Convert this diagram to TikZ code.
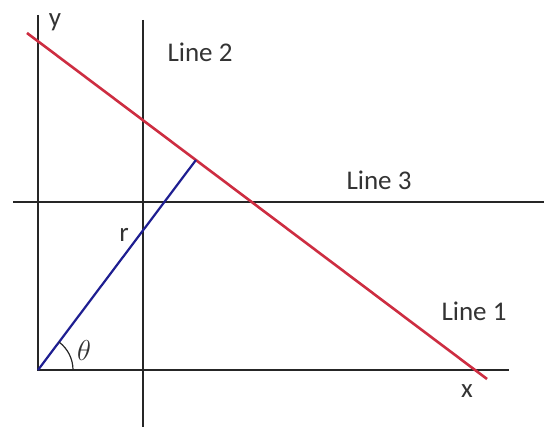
\documentclass[tikz,border=0pt]{standalone}
\usepackage{fontspec}
\setmainfont{Carlito}
\usetikzlibrary{calc,positioning}
\definecolor{redline}{RGB}{205,45,65}
\definecolor{blueline}{RGB}{30,30,145}

\begin{document}
\begin{tikzpicture}[x=0.5pt,y=0.5pt,
      ax/.style={draw=black!85,line width=1pt},
      lineone/.style={draw=redline,line width=1.3pt},
      normal/.style={draw=blueline,line width=1.1pt},
      lbl/.style={font=\fontsize{13.5}{16}\selectfont,text=black!80,inner sep=0pt}]
    \useasboundingbox (0,0) rectangle (544,429);
    % axes and the two reference lines
    \coordinate (O) at (38,59);
    \coordinate (ytop) at (38,414);
    \coordinate (xend) at (509,59);
    \coordinate (Ltwotop) at (143,409);
    \coordinate (Ltwobot) at (143,2);
    \coordinate (Lthreel) at (13,227);
    \coordinate (Lthreer) at (544,227);
    \draw[ax] (ytop) -- (O) -- (xend);
    \draw[ax] (Ltwotop) -- (Ltwobot);
    \draw[ax] (Lthreel) -- (Lthreer);
    % line 1 and its normal
    \coordinate (A) at (27,396);
    \coordinate (B) at (487,50);
    \coordinate (F) at ($(A)!(O)!(B)$);
    \draw[lineone] (A) -- (B);
    \draw[normal] (O) -- (F);
    \coordinate (arcend) at ($(O)+(35,0)$);
    \draw[black!85,line width=0.6pt] (arcend) arc[start angle=0,end angle=53,radius=35];
    % labels
    \node[lbl] (ylbl) at (55,407) {y};
    \node[lbl] (xlbl) at (467,38) {x};
    \node[lbl] (ltwo) at (200,377) {Line 2};
    \node[lbl] (lthree) at (379,249) {Line 3};
    \node[lbl] (lone) at (474,118) {Line 1};
    \node[lbl] (rlbl) at (124,194) {r};
    \node[lbl] (theta) at (84,79) {$\theta$};
  \end{tikzpicture}
\end{document}
